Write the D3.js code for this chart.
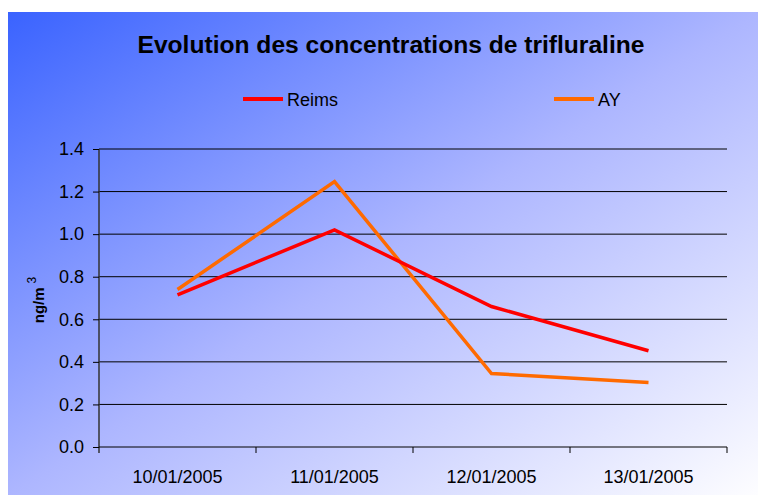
<!DOCTYPE html>
<html>
<head>
<meta charset="utf-8">
<script src="https://cdn.jsdelivr.net/npm/d3@7"></script>
<style>
  body { margin: 0; background: #fff; }
  svg text { font-family: "Liberation Sans", Arial, sans-serif; }
</style>
</head>
<body>
<svg id="chart"></svg>
<script>
// data
var dates = ["10/01/2005", "11/01/2005", "12/01/2005", "13/01/2005"];
var reims = [0.715, 1.02, 0.66, 0.452];
var ay = [0.74, 1.247, 0.345, 0.303];
var yTicks = [0, 0.2, 0.4, 0.6, 0.8, 1.0, 1.2, 1.4];

var width = 758, height = 495;
var margin = { top: 149, right: 31, bottom: 48, left: 99 };
var innerW = width - margin.left - margin.right;
var innerH = height - margin.top - margin.bottom;

var svg = d3.select("#chart").attr("width", width).attr("height", height);

var defs = svg.append("defs");
var grad = defs.append("linearGradient")
  .attr("id", "bg")
  .attr("x1", 0).attr("y1", 0).attr("x2", 1).attr("y2", 1);
grad.append("stop").attr("offset", "0%").attr("stop-color", "#3a63ff");
grad.append("stop").attr("offset", "50%").attr("stop-color", "#adb6ff");
grad.append("stop").attr("offset", "100%").attr("stop-color", "#fdfdff");

svg.append("rect")
  .attr("x", 8).attr("y", 12)
  .attr("width", width - 8).attr("height", height - 12)
  .attr("fill", "url(#bg)");

// title
svg.append("text")
  .attr("x", 391).attr("y", 53)
  .attr("text-anchor", "middle")
  .attr("font-size", 24.6).attr("font-weight", "bold")
  .text("Evolution des concentrations de trifluraline");

var g = svg.append("g").attr("transform", `translate(${margin.left},${margin.top})`);

var x = d3.scaleBand().domain(dates).range([0, innerW]).padding(0);
var y = d3.scaleLinear().domain([0, 1.4]).range([innerH, 0]);

// gridlines
g.append("g")
  .selectAll("line")
  .data(yTicks.filter(d => d > 0))
  .join("line")
  .attr("x1", 0).attr("x2", innerW)
  .attr("y1", d => y(d)).attr("y2", d => y(d))
  .attr("stroke", "#000").attr("stroke-width", 1);

// y axis
var yAxis = g.append("g")
  .call(d3.axisLeft(y).tickValues(yTicks).tickFormat(d3.format(".1f")).tickSize(6).tickPadding(9));
yAxis.select(".domain").attr("stroke", "#333").attr("stroke-width", 1.5)
  .attr("d", `M0,0V${innerH + 6}`);
yAxis.selectAll(".tick line").attr("stroke", "#000");
yAxis.selectAll(".tick text")
  .attr("font-size", 18).attr("fill", "#000")
  .attr("font-family", "Liberation Sans, Arial, sans-serif");

// x axis
var xAxis = g.append("g")
  .attr("transform", `translate(0,${innerH})`)
  .call(d3.axisBottom(x).tickSize(0).tickPadding(23));
xAxis.select(".domain").attr("stroke", "#000").attr("stroke-width", 1).attr("d", `M0,0H${innerW}`);
xAxis.selectAll(".tick text")
  .attr("font-size", 18).attr("fill", "#000")
  .attr("font-family", "Liberation Sans, Arial, sans-serif");
xAxis.append("g")
  .selectAll("line")
  .data(dates.slice(1).concat(["end"]))
  .join("line")
  .attr("x1", d => d === "end" ? innerW : x(d))
  .attr("x2", d => d === "end" ? innerW : x(d))
  .attr("y1", 0).attr("y2", 6)
  .attr("stroke", "#000");

// y title
var yt = svg.append("text")
  .attr("transform", "translate(44,300) rotate(-90)")
  .attr("text-anchor", "middle")
  .attr("font-size", 15).attr("font-weight", "bold");
yt.append("tspan").text("ng/m");
yt.append("tspan").attr("dy", -8).attr("dx", 4).attr("font-size", 12).attr("font-weight", "normal").text("3");

// series lines
var line = d3.line()
  .x((d, i) => x(dates[i]) + x.bandwidth() / 2)
  .y(d => y(d));

var series = [
  { name: "Reims", values: reims, color: "#ff0000" },
  { name: "AY", values: ay, color: "#ff6a00" }
];

g.selectAll("path.series")
  .data(series.slice().reverse())
  .join("path")
  .attr("class", "series")
  .attr("d", d => line(d.values))
  .attr("fill", "none")
  .attr("stroke", d => d.color)
  .attr("stroke-width", 3.5)
  .attr("stroke-linejoin", "miter");

// legend
var legendX = [243, 554];
var leg = svg.append("g").selectAll("g")
  .data(series)
  .join("g")
  .attr("transform", (d, i) => `translate(${legendX[i]},99)`);
leg.append("line")
  .attr("x1", 0).attr("x2", 40)
  .attr("stroke", d => d.color).attr("stroke-width", 4);
leg.append("text")
  .attr("x", 44).attr("y", 7)
  .attr("font-size", 18)
  .text(d => d.name);
</script>
</body>
</html>
